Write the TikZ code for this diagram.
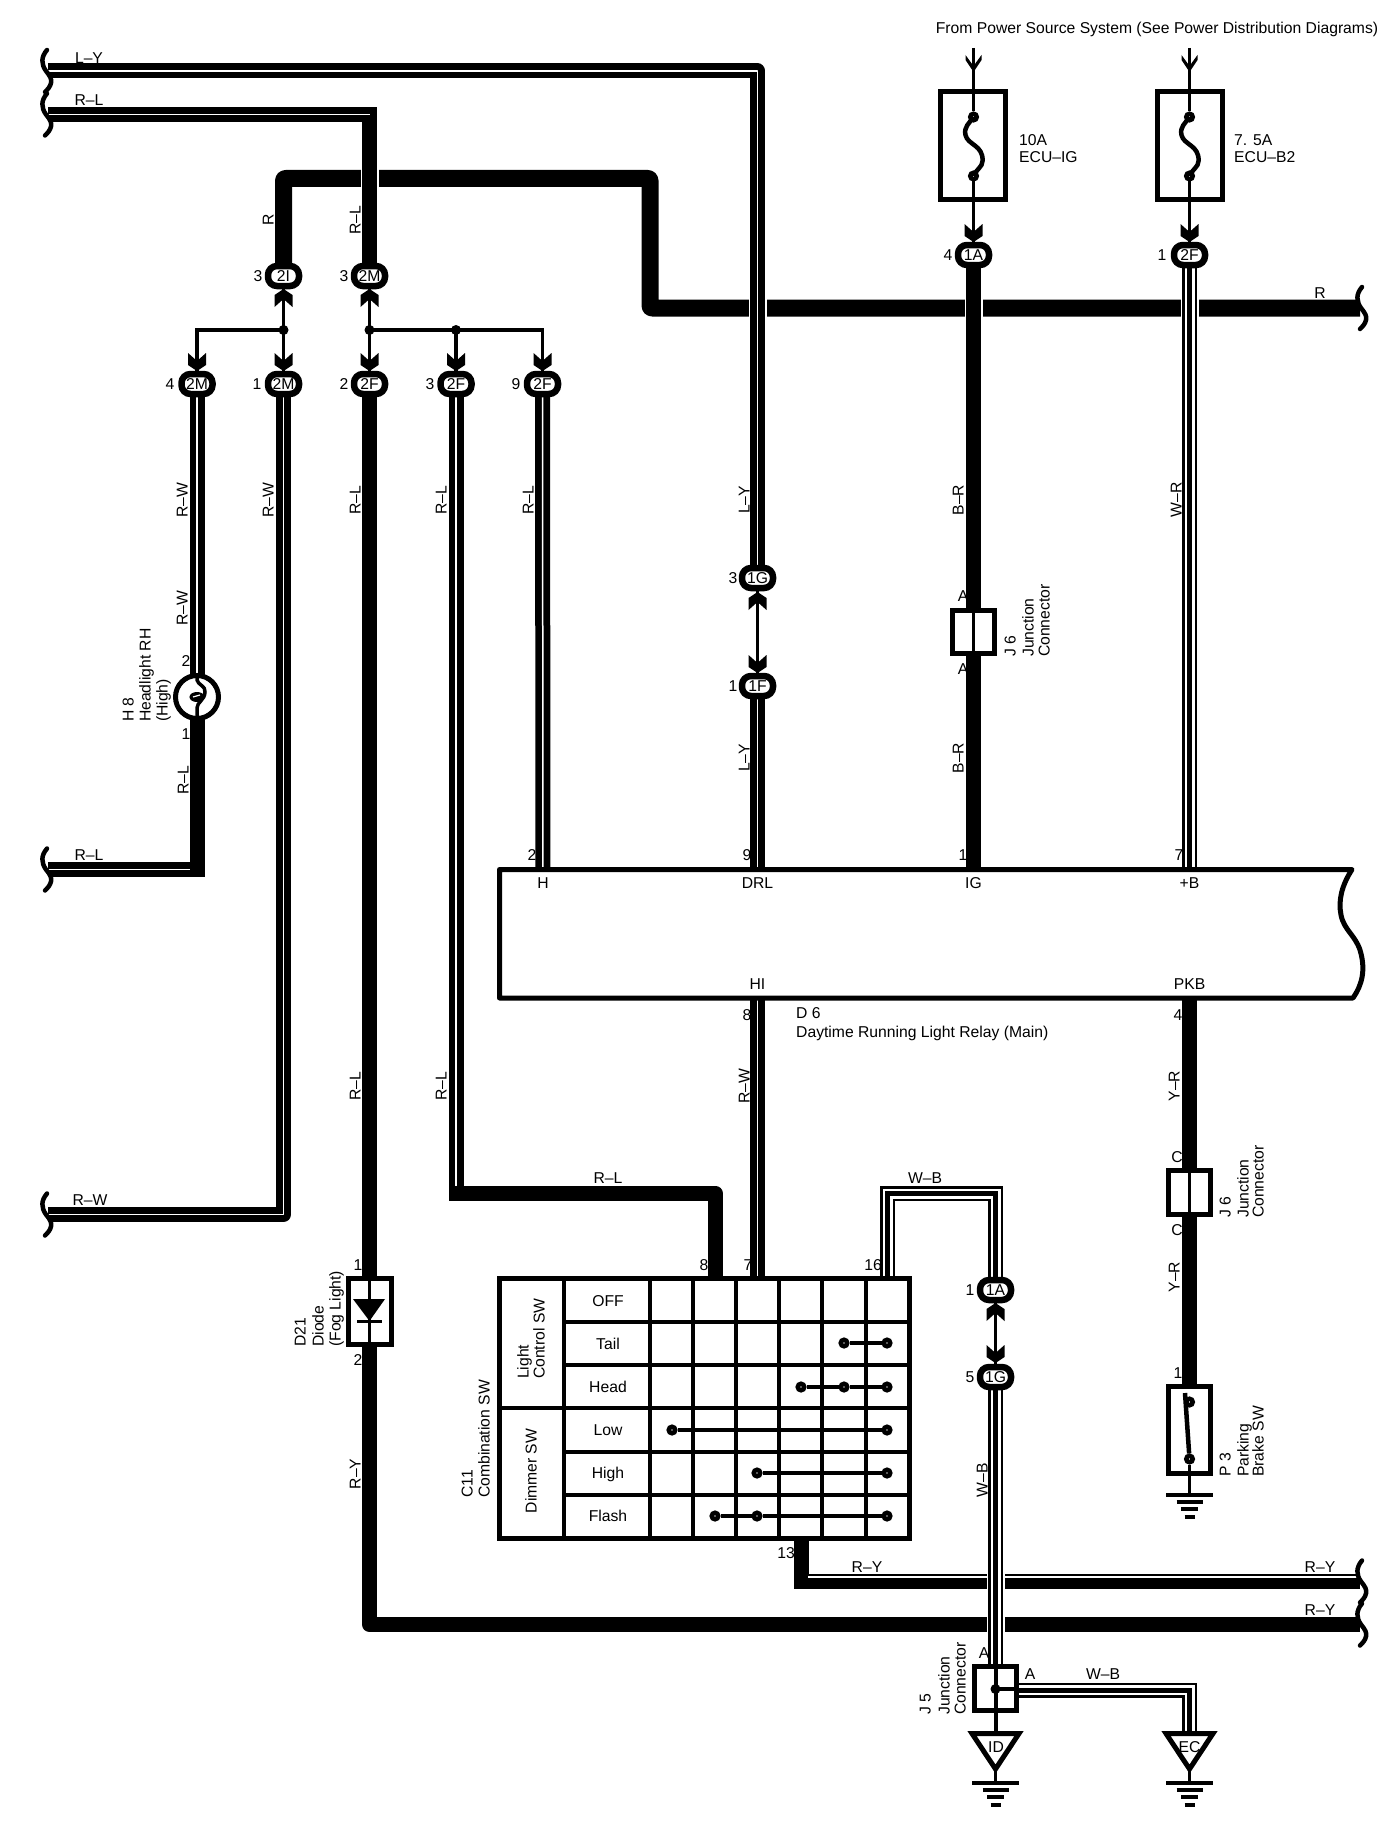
\documentclass[tikz,border=0pt]{standalone}
\usepackage{fontspec}
\setmainfont{Liberation Sans}
\usetikzlibrary{shapes.geometric}
\pgfdeclarelayer{bg}
\pgfsetlayers{bg,main}
\tikzset{
  lbl/.style={inner sep=0pt,text height=11.2pt,text depth=0pt,font=\fontsize{15.7}{15.7}\selectfont},
  rlbl/.style={lbl,rotate=90},
  conn/.style={rectangle,rounded corners=9pt,draw=black,fill=white,line width=6.5pt,minimum width=31pt,minimum height=20pt,inner sep=0pt,text height=11.2pt,text depth=0pt,font=\fontsize{15.7}{15.7}\selectfont},
  solidw/.style={draw=black,line width=15pt,line join=round},
  thickw/.style={draw=black,line width=17pt,line join=round,rounded corners=2pt},
  stripew/.style={draw=black,double=white,double distance=1.5pt,line width=6.75pt,line join=round},
  threew/.style={draw=black,line width=15pt,postaction={draw=white,line width=10pt},postaction={draw=black,line width=5pt}},
  halo/.style={draw=white,line width=18pt},
  lead/.style={draw=black,line width=3.8pt},
  box/.style={rectangle,draw=black,fill=white,line width=5pt,inner sep=0pt},
  contact/.style={circle,draw=black,fill=white,line width=4.5pt,minimum size=6.5pt,inner sep=0pt},
  jdot/.style={circle,fill=black,minimum size=10pt,inner sep=0pt},
  grid/.style={draw=black,line width=4pt},
  chevd/.pic={\fill[black] (-9,-18) -- (0,-10) -- (9,-18) -- (9,-6) -- (0,0) -- (-9,-6) -- cycle;},
  chevu/.pic={\fill[black] (-9,18) -- (0,10) -- (9,18) -- (9,6) -- (0,0) -- (-9,6) -- cycle;},
  openhead/.pic={\fill[black] (-8,-17) -- (0,-6) -- (8,-17) -- (8,-12) -- (0,0) -- (-8,-12) -- cycle;},
  earth/.pic={\draw[black,line width=3.5pt] (-23.5,0) -- (23.5,0) (-13,7) -- (13,7) (-8.5,14) -- (8.5,14) (-5,22) -- (5,22);},
  wavy/.pic={\draw[black,line width=4.5pt,line cap=round] (-1,-21) .. controls (-7,-14) and (-7,-7) .. (-2,0) .. controls (2,5) and (4,8) .. (3,12) .. controls (2,16) and (0,18) .. (-3,21);},
  fuselink/.pic={\draw[black,line width=4.5pt] (0,0) .. controls (-4,6) and (-10,10) .. (-8,18) .. controls (-6,28) and (10,28) .. (9,44) .. controls (9,50) and (3,52) .. (0,59);},
}
\begin{document}
\begin{tikzpicture}[x=1pt,y=-1pt]
\useasboundingbox (0,0) rectangle (1392,1830);

% ---------- connector nodes
\node[conn] (c2Ia) at (283.5,276) {2I};
\node[conn] (c2Mb) at (369.5,276) {2M};
\node[conn] (c2Mc) at (197,384) {2M};
\node[conn] (c2Md) at (283.5,384) {2M};
\node[conn] (c2Fa) at (369.5,384) {2F};
\node[conn] (c2Fb) at (456,384) {2F};
\node[conn] (c2Fc) at (542.5,384) {2F};
\node[conn] (c1Ga) at (757.5,578) {1G};
\node[conn] (c1Fa) at (757.5,686) {1F};
\node[conn] (c1Ab) at (973.5,255) {1A};
\node[conn] (c2Fd) at (1189.5,255) {2F};
\node[conn] (c1Ac) at (995.5,1290) {1A};
\node[conn] (c1Gb) at (995.5,1377) {1G};

\node[jdot] (jA) at (283.5,330) {};
\node[jdot] (jB) at (369.5,330) {};
\node[jdot] (jC) at (456,330) {};

\pic at (283.5,289) {chevu};
\pic at (369.5,289) {chevu};
\pic at (197,371) {chevd};
\pic at (283.5,371) {chevd};
\pic at (369.5,371) {chevd};
\pic at (456,371) {chevd};
\pic at (542.5,371) {chevd};
\pic at (757.5,592) {chevu};
\pic at (757.5,673) {chevd};
\pic at (995.5,1303) {chevu};
\pic at (995.5,1363) {chevd};
\pic at (973.5,242) {chevd};
\pic at (1189.5,242) {chevd};

% ---------- fuses
\node[box,minimum width=65pt,minimum height=108pt] (fuseA) at (973,146) {};
\node[box,minimum width=65pt,minimum height=108pt] (fuseB) at (1189.5,146) {};
\coordinate (feedA) at (973.5,48);
\coordinate (feedB) at (1189.5,48);
\node[contact] (fA1) at (973.5,117) {};
\node[contact] (fA2) at (973.5,176) {};
\node[contact] (fB1) at (1189.5,117) {};
\node[contact] (fB2) at (1189.5,176) {};
\draw[lead] (feedA) -- (fA1);
\draw[lead] (feedB) -- (fB1);
\draw[lead] (fA2) -- (c1Ab);
\draw[lead] (fB2) -- (c2Fd);
\pic at (973.5,117) {fuselink};
\pic at (1189.5,117) {fuselink};
\pic at (973.5,72) {openhead};
\pic at (1189.5,72) {openhead};
\node[lbl] (tFrom) at (1157,28) {From Power Source System (See Power Distribution Diagrams)};
\node[lbl,anchor=west] (tFA1) at (1019,140) {10A};
\node[lbl,anchor=west] (tFA2) at (1019,157) {ECU–IG};
\node[lbl,anchor=west] (tFB1) at (1234,140) {7. 5A};
\node[lbl,anchor=west] (tFB2) at (1234,157) {ECU–B2};

% ---------- headlight
\node[circle,draw=black,fill=white,line width=5pt,minimum size=43pt,inner sep=0pt] (bulb) at (197,697) {};
\draw[black,line width=3.5pt] (197,676) -- (197,680) .. controls (198,685) and (206,686) .. (205,692) .. controls (205,700) and (197,702) .. (197,708) -- (197,718);
\draw[black,fill=black,line width=1pt] (197,697) ellipse (7 and 4.5);
\draw[white,line width=1.2pt] (193,697) -- (200,695);
\node[rlbl,anchor=west] (tH1) at (128,722) {H 8};
\node[rlbl,anchor=west] (tH2) at (145,722) {Headlight RH};
\node[rlbl,anchor=west] (tH3) at (162,722) {(High)};

% ---------- diode
\node[box,minimum width=43pt,minimum height=66pt] (diode) at (369.5,1311.5) {};
\draw[black,line width=2.5pt] (369.5,1276) -- (369.5,1347);
\fill[black] (353,1299) -- (385,1299) -- (369.5,1321) -- cycle;
\draw[black,line width=3pt] (357,1321) -- (382,1321);
\node[rlbl,anchor=west] (tD1) at (300,1347) {D21};
\node[rlbl,anchor=west] (tD2) at (318,1347) {Diode};
\node[rlbl,anchor=west] (tD3) at (335,1347) {(Fog Light)};

% ---------- relay
\fill[white,draw=black,line width=5pt,line join=round] (499.5,869.5) -- (1352,869.5) .. controls (1342,885) and (1338,900) .. (1341,915) .. controls (1344,930) and (1355,935) .. (1360,950) .. controls (1366,970) and (1362,985) .. (1353,998) -- (499.5,998) -- cycle;
\node[lbl] (pH) at (543,883) {H};
\node[lbl] (pDRL) at (757.5,883) {DRL};
\node[lbl] (pIG) at (973.5,883) {IG};
\node[lbl] (pB) at (1189.5,883) {+B};
\node[lbl] (pHI) at (757.5,984) {HI};
\node[lbl] (pPKB) at (1189.5,984) {PKB};
\node[lbl,anchor=west] (tD6) at (796,1013) {D 6};
\node[lbl,anchor=west] (tD6b) at (796,1032) {Daytime Running Light Relay (Main)};

% ---------- junction connectors
\node[box,minimum width=42pt,minimum height=43pt] (J6a) at (973.5,632) {};
\draw[black,line width=3.5pt] (973.5,608) -- (973.5,656);
\node[box,minimum width=42pt,minimum height=44pt] (J6b) at (1189.5,1192.5) {};
\draw[black,line width=3pt] (1189.5,1168) -- (1189.5,1217);
\node[rlbl,anchor=west] (tJa1) at (1010,657) {J 6};
\node[rlbl,anchor=west] (tJa2) at (1028,657) {Junction};
\node[rlbl,anchor=west] (tJa3) at (1044,657) {Connector};
\node[rlbl,anchor=west] (tJb1) at (1225,1218) {J 6};
\node[rlbl,anchor=west] (tJb2) at (1243,1218) {Junction};
\node[rlbl,anchor=west] (tJb3) at (1258,1218) {Connector};

% ---------- parking brake switch
\node[box,minimum width=42pt,minimum height=87.5pt] (P3) at (1189.5,1430) {};
\node[contact] (sw1) at (1189.5,1402) {};
\node[contact] (sw2) at (1189.5,1459) {};
\draw[black,line width=4.5pt] (1185,1393) -- (sw2);
\coordinate (gP) at (1189.5,1495);
\draw[lead] (sw2) -- (gP);
\pic at (gP) {earth};
\node[rlbl,anchor=west] (tP1) at (1225,1477) {P 3};
\node[rlbl,anchor=west] (tP2) at (1243,1477) {Parking};
\node[rlbl,anchor=west] (tP3) at (1258,1477) {Brake SW};

% ---------- combination switch table
\fill[white,draw=black,line width=5pt] (499,1278) rectangle (909,1538);
\foreach \cx in {564,650,693,736,779,822,866} {\draw[grid] (\cx,1278) -- (\cx,1538);}
\foreach \ry in {1322,1365,1452,1495} {\draw[grid] (564,\ry) -- (909,\ry);}
\draw[grid] (499,1408) -- (909,1408);
\coordinate (tp8) at (715,1278);
\coordinate (tp7) at (757.5,1278);
\coordinate (tp16) at (887.5,1278);
\coordinate (tp13) at (801,1538);
\node[lbl] (rOff) at (608,1301) {OFF};
\node[lbl] (rTail) at (608,1344) {Tail};
\node[lbl] (rHead) at (608,1387) {Head};
\node[lbl] (rLow) at (608,1430) {Low};
\node[lbl] (rHigh) at (608,1473) {High};
\node[lbl] (rFlash) at (608,1516) {Flash};
\node[rlbl,anchor=west] (tT1) at (523,1379) {Light};
\node[rlbl,anchor=west] (tT2) at (539,1379) {Control SW};
\node[rlbl] (tT3) at (531,1471) {Dimmer SW};
\node[rlbl,anchor=west] (tT4) at (467,1498) {C11};
\node[rlbl,anchor=west] (tT5) at (484,1498) {Combination SW};
\node[contact] (a1) at (844,1343) {};
\node[contact] (a2) at (887,1343) {};
\node[contact] (b1) at (801,1387) {};
\node[contact] (b2) at (844,1387) {};
\node[contact] (b3) at (887,1387) {};
\node[contact] (d1) at (672,1430) {};
\node[contact] (d2) at (887,1430) {};
\node[contact] (e1) at (757,1473) {};
\node[contact] (e2) at (887,1473) {};
\node[contact] (f1) at (715,1516) {};
\node[contact] (f2) at (757,1516) {};
\node[contact] (f3) at (887,1516) {};
\draw[lead] (a1) -- (a2);
\draw[lead] (b1) -- (b2);
\draw[lead] (b2) -- (b3);
\draw[lead] (d1) -- (d2);
\draw[lead] (e1) -- (e2);
\draw[lead] (f1) -- (f2);
\draw[lead] (f2) -- (f3);

% ---------- J5 and grounds
\node[box,minimum width=42pt,minimum height=44.5pt] (J5) at (995.5,1688.5) {};
\node[jdot] (J5dot) at (995.5,1689) {};
\draw[black,line width=4pt] (995.5,1664) -- (995.5,1733);
\draw[black,line width=4pt] (J5dot.center) -- (1017,1689);
\fill[white,draw=black,line width=5pt] (972,1733.5) -- (1019,1733.5) -- (995.5,1769) -- cycle;
\fill[white,draw=black,line width=5pt] (1166,1733.5) -- (1213,1733.5) -- (1189.5,1769) -- cycle;
\node[lbl] (gID) at (996,1747) {ID};
\node[lbl] (gEC) at (1189.5,1747) {EC};
\coordinate (eID) at (995.5,1783);
\coordinate (eEC) at (1189.5,1783);
\draw[lead] (995.5,1771) -- (eID);
\draw[lead] (1189.5,1771) -- (eEC);
\pic at (eID) {earth};
\pic at (eEC) {earth};
\node[rlbl,anchor=west] (tJ51) at (925,1715) {J 5};
\node[rlbl,anchor=west] (tJ52) at (944,1715) {Junction};
\node[rlbl,anchor=west] (tJ53) at (960,1715) {Connector};

% ---------- free wire ends
\coordinate (bLY) at (48,71);
\coordinate (bRL) at (48,114.5);
\coordinate (bRL2) at (48,869.5);
\coordinate (bRW) at (48,1214.5);
\coordinate (bR) at (1360,308);
\coordinate (bRY1) at (1360,1581.5);
\coordinate (bRY2) at (1360,1624.5);
\pic at (bLY) {wavy};
\pic at (bRL) {wavy};
\pic at (bRL2) {wavy};
\pic at (bRW) {wavy};
\pic at ([xshift=3pt]bR) {wavy};
\pic at ([xshift=3pt]bRY1) {wavy};
\pic at ([xshift=3pt]bRY2) {wavy};

% ---------- wire colour and pin labels
\node[lbl] (w1) at (89,58) {L–Y};
\node[lbl] (w2) at (89,100) {R–L};
\node[lbl] (w3) at (89,855) {R–L};
\node[lbl] (w4) at (90,1200) {R–W};
\node[lbl] (w5) at (1320,293) {R};
\node[lbl] (w6) at (608,1178) {R–L};
\node[lbl] (w7) at (867,1567) {R–Y};
\node[lbl] (w8) at (1320,1567) {R–Y};
\node[lbl] (w9) at (1320,1610) {R–Y};
\node[lbl] (w10) at (925,1178) {W–B};
\node[lbl] (w11) at (1103,1674) {W–B};
\node[rlbl] (v1) at (268,220) {R};
\node[rlbl] (v2) at (355,220) {R–L};
\node[rlbl] (v3) at (182,500) {R–W};
\node[rlbl] (v4) at (182,608) {R–W};
\node[rlbl] (v5) at (183,780) {R–L};
\node[rlbl] (v6) at (268,500) {R–W};
\node[rlbl] (v7) at (355,500) {R–L};
\node[rlbl] (v8) at (441,500) {R–L};
\node[rlbl] (v9) at (528,500) {R–L};
\node[rlbl] (v10) at (744,500) {L–Y};
\node[rlbl] (v11) at (744,758) {L–Y};
\node[rlbl] (v12) at (958,500) {B–R};
\node[rlbl] (v13) at (958,758) {B–R};
\node[rlbl] (v14) at (1176,500) {W–R};
\node[rlbl] (v15) at (355,1086) {R–L};
\node[rlbl] (v16) at (441,1086) {R–L};
\node[rlbl] (v17) at (744,1086) {R–W};
\node[rlbl] (v18) at (1174,1086) {Y–R};
\node[rlbl] (v19) at (1174,1277) {Y–R};
\node[rlbl] (v20) at (355,1474) {R–Y};
\node[rlbl] (v21) at (982,1480) {W–B};
\node[lbl] (n1) at (258,276) {3};
\node[lbl] (n2) at (344,276) {3};
\node[lbl] (n3) at (170,384) {4};
\node[lbl] (n4) at (257,384) {1};
\node[lbl] (n5) at (344,384) {2};
\node[lbl] (n6) at (430,384) {3};
\node[lbl] (n7) at (516,384) {9};
\node[lbl] (n8) at (948,255) {4};
\node[lbl] (n9) at (1162,255) {1};
\node[lbl] (n10) at (733,578) {3};
\node[lbl] (n11) at (733,686) {1};
\node[lbl] (n12) at (186,661) {2};
\node[lbl] (n13) at (186,734) {1};
\node[lbl] (n14) at (532,855) {2};
\node[lbl] (n15) at (747,855) {9};
\node[lbl] (n16) at (963,855) {1};
\node[lbl] (n17) at (1179,855) {7};
\node[lbl] (n18) at (747,1015) {8};
\node[lbl] (n19) at (1178,1015) {4};
\node[lbl] (n20) at (704,1265) {8};
\node[lbl] (n21) at (748,1265) {7};
\node[lbl] (n22) at (873,1265) {16};
\node[lbl] (n23) at (786,1553) {13};
\node[lbl] (n24) at (970,1290) {1};
\node[lbl] (n25) at (970,1377) {5};
\node[lbl] (n26) at (963,596) {A};
\node[lbl] (n27) at (963,669) {A};
\node[lbl] (n28) at (1177,1157) {C};
\node[lbl] (n29) at (1177,1230) {C};
\node[lbl] (n30) at (1178,1373) {1};
\node[lbl] (n31) at (358,1265) {1};
\node[lbl] (n32) at (358,1360) {2};
\node[lbl] (n33) at (984,1653) {A};
\node[lbl] (n34) at (1030,1674) {A};

% ---------- wires, behind everything above
\begin{pgfonlayer}{bg}
% main R feed, crossed by the others
\draw[thickw] (c2Ia.center) |- (650,178.5) |- (bR);
% thin leads
\draw[lead] (c2Ia.center) -- (jA.center) -- (c2Md.center);
\draw[lead] (jA.center) -| (c2Mc.center);
\draw[lead] (c2Mb.center) -- (jB.center) -- (c2Fa.center);
\draw[lead] (jB.center) -- (jC.center) -- (c2Fb.center);
\draw[lead] (jC.center) -| (c2Fc.center);
\draw[lead] (c1Ga.center) -- (c1Fa.center);
\draw[lead] (c1Ac.center) -- (c1Gb.center);
% top left
\draw[halo] (757.5,295) -- (757.5,321);
\draw[stripew] (bLY) -| (c1Ga.center);
\draw[halo] (369.5,165) -- (369.5,192);
\draw[solidw,line cap=rect] (c2Mb.center) -- (369.5,114.5);
\draw[stripew] (bRL) -- (369.5,114.5);
% headlight branch
\draw[stripew] (c2Mc.center) -- (bulb.center);
\draw[stripew] (bRL2) -- (197,869.5);
\draw[solidw,line cap=rect] (bulb.center) -- (197,869.5);
\draw[stripew] (c2Md.center) |- (bRW);
% R-L to diode and beyond
\draw[solidw,line cap=rect] (c2Fa.center) -- (diode.center);
\draw[solidw] (diode.center) |- (bRY2);
% R-L to switch
\draw[stripew] (c2Fb.center) -- (456,1193);
\draw[solidw,line cap=rect] (456,1193) -| (tp8);
% relay pins
\draw[stripew] (c2Fc.center) -- (pH.center);
\draw[stripew] (c1Fa.center) -- (pDRL.center);
\draw[halo] (973.5,295) -- (973.5,321);
\draw[solidw] (c1Ab.center) -- (J6a.center);
\draw[solidw] (J6a.center) -- (pIG.center);
\draw[halo] (1189.5,295) -- (1189.5,321);
\draw[threew] (c2Fd.center) -- (pB.center);
\draw[stripew] (pHI.center) -- (tp7);
\draw[solidw] (pPKB.center) -- (J6b.center);
\draw[solidw] (J6b.center) -- (P3.center);
% switch outputs
\draw[solidw,line cap=rect] (tp13) -- (801,1581.5);
\draw[solidw] (801,1581.5) -- (bRY1);
\draw[white,line width=1.6pt] (808,1577) -- (1360,1577);
\draw[threew] (tp16) |- (995.5,1193.5) -- (c1Ac.center);
\draw[halo] (995.5,1570) -- (995.5,1636);
\draw[threew] (c1Gb.center) -- (J5.center);
\draw[threew] (J5.center) ++(0,1.5) -| (gEC.center);
\end{pgfonlayer}
\end{tikzpicture}
\end{document}
